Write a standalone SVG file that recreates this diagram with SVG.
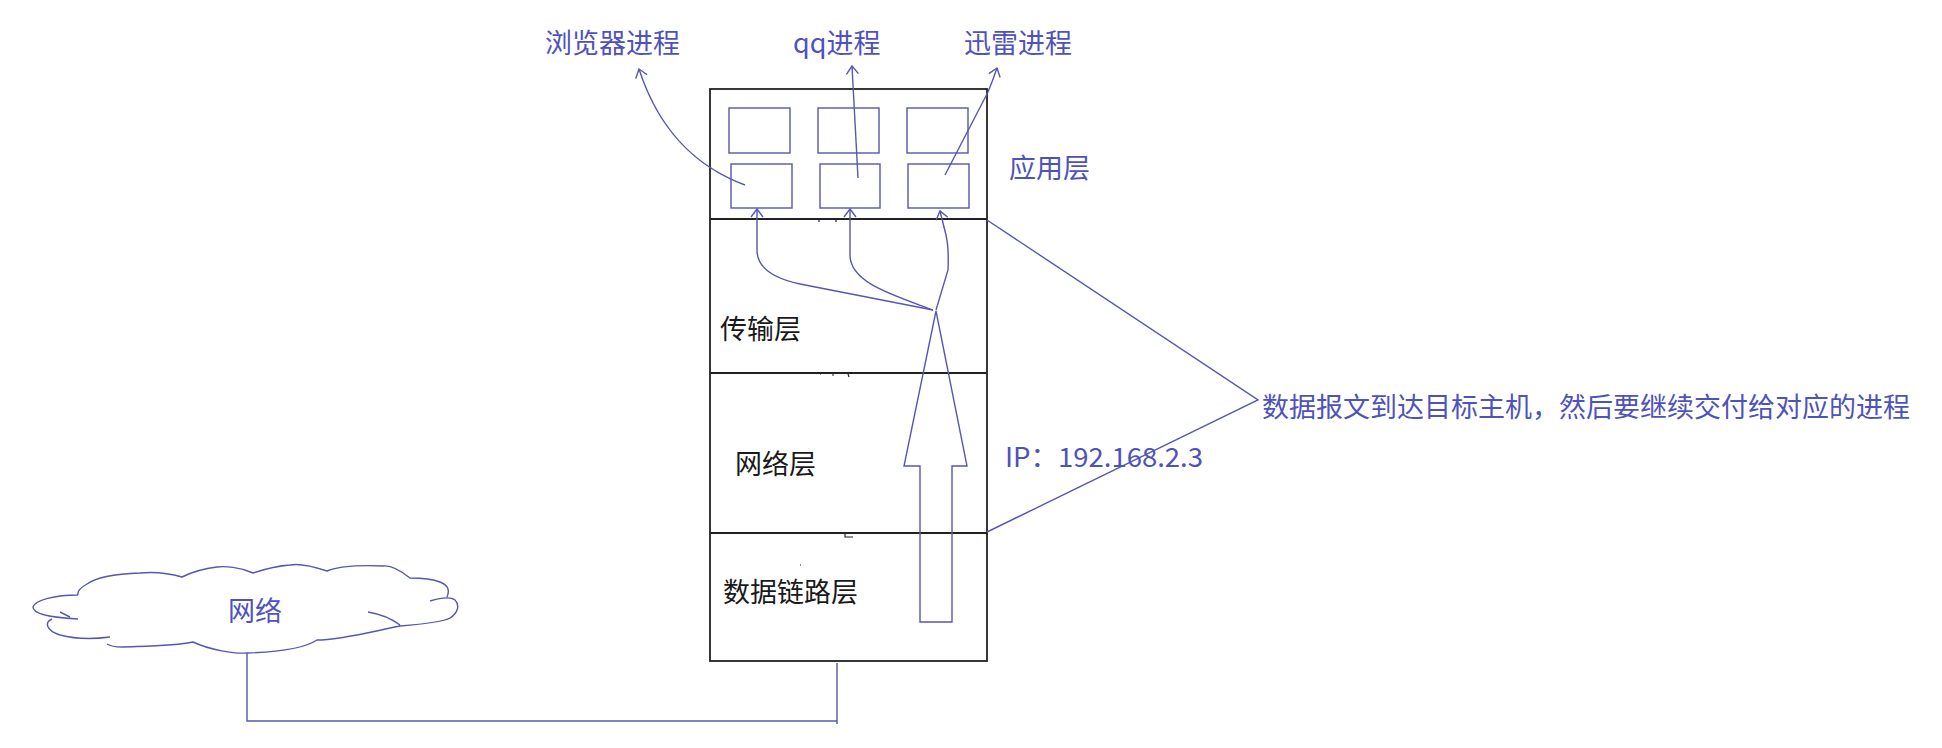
<svg xmlns="http://www.w3.org/2000/svg" width="1942" height="748" viewBox="0 0 1942 748">
<style>
.bl{fill:none;stroke:#5558b0;stroke-width:1.4}
.bk{fill:none;stroke:#222;stroke-width:1.8}
.t{font-family:"Noto Sans CJK SC","Microsoft YaHei",sans-serif;font-size:27px}
.tb{fill:#4e52bd}
.tk{fill:#1a1a1a}
</style>
<defs>
<marker id="ah" viewBox="-10 -7 12 14" refX="0" refY="0" markerWidth="12" markerHeight="14" markerUnits="userSpaceOnUse" orient="auto">
<path d="M-8,-6 L0,0 L-8,6" fill="none" stroke="#5558b0" stroke-width="1.4"/>
</marker>
</defs>
<rect width="1942" height="748" fill="#fff"/>
<g id="host">
<rect x="710" y="89" width="277" height="572" class="bk"/>
<line x1="710" y1="219" x2="987" y2="219" class="bk"/>
<line x1="710" y1="373" x2="987" y2="373" class="bk"/>
<line x1="710" y1="533" x2="987" y2="533" class="bk"/>
<path d="M819,219v3M836,219v3M820,374h1M832,375h2M848,374l1,3M830,533h1M845,534v3h8M800,565h1" stroke="#222" stroke-width="1.2" fill="none"/>
</g>
<g id="app-layer">
<rect x="729" y="108" width="61" height="45" class="bl"/>
<rect x="818" y="108" width="61" height="45" class="bl"/>
<rect x="907" y="108" width="61" height="45" class="bl"/>
<rect x="731" y="164" width="61" height="44" class="bl"/>
<rect x="820" y="164" width="60" height="44" class="bl"/>
<rect x="908" y="164" width="61" height="44" class="bl"/>
<text x="1009" y="178" class="t tb">应用层</text>
</g>
<g id="labels">
<text x="545" y="53" class="t tb">浏览器进程</text>
<text x="793" y="53" class="t tb">qq进程</text>
<text x="964" y="53" class="t tb">迅雷进程</text>
</g>
<g id="transport-layer"><text x="720" y="339" class="t tk">传输层</text></g>
<g id="network-layer"><text x="735" y="474" class="t tk">网络层</text></g>
<g id="datalink-layer"><text x="723" y="602" class="t tk">数据链路层</text></g>
<g id="cloud">
<path class="bl" d="M78,595 C55,595 35,600 33,607 C33,613 45,617 78,619 M60,612 L70,617 M52,619 C45,622 45,630 60,635 C75,639 95,639 110,637 M107,644 C112,647 118,647 122,647 C150,646 175,646 193,642 C210,650 235,654 247,653 C280,652 305,648 317,640 C340,640 370,632 400,626 C425,624 445,621 450,618 C458,613 460,605 455,600 C450,596 440,598 430,601 M447,597 C450,590 448,585 440,582 C430,578 415,578 410,578 C400,570 390,565 383,566 C360,565 340,566 327,571 C315,567 300,563 290,565 C275,566 262,570 253,573 C240,567 225,566 217,567 C200,569 190,573 182,577 C165,572 150,572 140,573 C115,574 95,578 87,584 C80,588 77,592 78,595 M368,612 C380,614 392,619 400,625"/>
<text x="228" y="621" class="t tb">网络</text>
</g>
<g id="annotation">
<text x="1262" y="417" class="t tb">数据报文到达目标主机，然后要继续交付给对应的进程</text>
<text x="1005" y="467" class="t tb" textLength="198" lengthAdjust="spacingAndGlyphs">IP：192.168.2.3</text>
</g>
<g id="connectors">
<path class="bl" d="M745,185 C705,170 662,140 639,69" marker-end="url(#ah)"/>
<path class="bl" d="M858,178 L852,66" marker-end="url(#ah)"/>
<path class="bl" d="M945,175 L988,92 Q993,80 997,68" marker-end="url(#ah)"/>
<path class="bl" d="M933,310 L800,284 Q757,275 757,250 L757,209" marker-end="url(#ah)"/>
<path class="bl" d="M933,310 C890,294 850,282 850,255 L850,209" marker-end="url(#ah)"/>
<path class="bl" d="M936,310 L948,270 Q949,248 946,235 L940,211" marker-end="url(#ah)"/>
<polygon class="bl" points="936,311 967,466 952,466 952,622 920,622 920,466 904,466"/>
<polyline class="bl" points="987,220 1258,400 987,532"/>
<polyline class="bl" points="247,653 247,721 837,721"/>
<line class="bl" x1="837" y1="663" x2="837" y2="724"/>
</g>
</svg>
